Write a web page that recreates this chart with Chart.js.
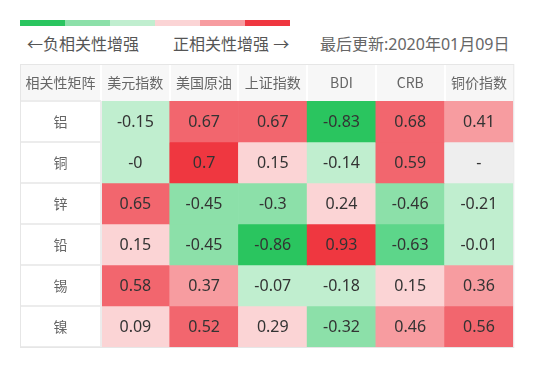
<!DOCTYPE html>
<html>
<head>
<meta charset="utf-8">
<script src="https://cdn.jsdelivr.net/npm/chart.js@4"></script>
<style>
  body { margin: 0; width: 536px; height: 376px; background: #fff; position: relative; overflow: hidden;
         font-family: "Noto Sans", "Noto Sans CJK SC", sans-serif; }
  #scale { position: absolute; left: 20px; top: 20px; display: flex; }
  #scale span { width: 45px; height: 6px; display: block; }
  .tip { position: absolute; top: 33px; font-size: 16px; line-height: 22px; color: #555; white-space: nowrap; }
  #wrap { position: absolute; left: 20px; top: 64px; width: 497px; height: 284px; }
</style>
</head>
<body>
<div id="scale"></div>
<div class="tip" style="left:27px">←负相关性增强</div>
<div class="tip" style="left:173px">正相关性增强 →</div>
<div class="tip" style="left:320px;color:#666">最后更新:2020年01月09日</div>
<div id="wrap"><canvas id="heat"></canvas></div>
<script>
// --- dati ---
const metals = ['铝', '铜', '锌', '铅', '锡', '镍'];
const indices = ['美元指数', '美国原油', '上证指数', 'BDI', 'CRB', '铜价指数'];
const alu    = [-0.15, 0.67, 0.67, -0.83, 0.68, 0.41];
const copper = [-0, 0.7, 0.15, -0.14, 0.59, null];
const zinc   = [0.65, -0.45, -0.3, 0.24, -0.46, -0.21];
const lead   = [0.15, -0.45, -0.86, 0.93, -0.63, -0.01];
const tin    = [0.58, 0.37, -0.07, -0.18, 0.15, 0.36];
const nickel = [0.09, 0.52, 0.29, -0.32, 0.46, 0.56];
const rows = [alu, copper, zinc, lead, tin, nickel];

const legendColors = ['#2ac55f', '#8ce0a9', '#c0eecf', '#fbd4d5', '#f79ca0', '#ef3740'];

// legenda colori in alto
const scaleEl = document.getElementById('scale');
legendColors.forEach(c => {
  const s = document.createElement('span');
  s.style.background = c;
  scaleEl.appendChild(s);
});

const isNeg = v => v < 0 || Object.is(v, -0);

function colorFor(v) {
  if (v === null) return '#eeeeee';
  if (v <= -0.8) return '#2ac55f';
  if (v <= -0.6) return '#5dd68a';
  if (v <= -0.3) return '#8ce0a9';
  if (isNeg(v)) return '#c0eecf';
  if (v < 0.3) return '#fbd4d5';
  if (v < 0.5) return '#f79ca0';
  if (v < 0.7) return '#f2666e';
  return '#ef3740';
}

function fmt(v) {
  if (v === null) return '-';
  if (Object.is(v, -0)) return '-0';
  return String(v);
}

// --- plugin: intestazione, etichette righe, bordi ---
const tableFrame = {
  id: 'tableFrame',
  beforeDraw(chart) {
    const { ctx, chartArea: a } = chart;
    ctx.save();
    ctx.fillStyle = '#f7f7f7';
    ctx.fillRect(0, 0, a.right, a.top);
    ctx.fillStyle = '#666';
    ctx.font = '14px "Noto Sans CJK SC", sans-serif';
    ctx.textAlign = 'center';
    ctx.textBaseline = 'middle';
    ctx.fillText('相关性矩阵', a.left / 2, a.top / 2);
    ctx.restore();
  },
  afterDraw(chart) {
    const { ctx, chartArea: a, scales } = chart;
    const x = scales.x, y = scales.y;
    ctx.save();
    // etichette righe
    ctx.fillStyle = '#666';
    ctx.font = '14px "Noto Sans CJK SC", sans-serif';
    ctx.textAlign = 'center';
    ctx.textBaseline = 'middle';
    metals.forEach((m, i) => ctx.fillText(m, a.left / 2, y.getPixelForValue(i + 0.5)));
    // separatori bianchi nell'intestazione
    ctx.strokeStyle = '#ffffff';
    ctx.lineWidth = 2;
    ctx.beginPath();
    ctx.moveTo(a.left, 1); ctx.lineTo(a.left, a.top);
    for (let j = 1; j < indices.length; j++) {
      const px = Math.round((x.getPixelForValue(j - 1) + x.getPixelForValue(j)) / 2);
      ctx.moveTo(px, 1); ctx.lineTo(px, a.top);
    }
    ctx.stroke();
    // righe grigie nella colonna etichette
    ctx.strokeStyle = '#ececec';
    ctx.lineWidth = 2;
    ctx.beginPath();
    for (let i = 0; i <= metals.length; i++) {
      const py = Math.round(y.getPixelForValue(i));
      ctx.moveTo(0, py); ctx.lineTo(a.left, py);
    }
    ctx.moveTo(a.left, a.top); ctx.lineTo(a.left, a.bottom);
    ctx.stroke();
    // bordo esterno
    ctx.lineWidth = 1;
    ctx.strokeStyle = '#e6e6e6';
    ctx.strokeRect(0.5, 0.5, a.right, a.bottom);
    ctx.restore();
  }
};

// --- plugin: valori nelle celle ---
const cellLabels = {
  id: 'cellLabels',
  afterDatasetsDraw(chart) {
    const { ctx } = chart;
    ctx.save();
    ctx.font = '16px "Noto Sans", sans-serif';
    ctx.fillStyle = '#333';
    ctx.textAlign = 'center';
    ctx.textBaseline = 'middle';
    chart.data.datasets.forEach((ds, i) => {
      chart.getDatasetMeta(i).data.forEach((el, j) => {
        ctx.fillText(fmt(rows[i][j]), el.x, (el.y + el.base) / 2 + 1);
      });
    });
    ctx.restore();
  }
};

const datasets = metals.map((m, i) => ({
  label: m,
  data: indices.map(() => [i, i + 1]),
  backgroundColor: rows[i].map(colorFor),
  borderWidth: 0,
  barPercentage: 1,
  categoryPercentage: 1,
  grouped: false
}));

new Chart(document.getElementById('heat'), {
  type: 'bar',
  data: { labels: indices, datasets },
  plugins: [tableFrame, cellLabels],
  options: {
    responsive: true,
    maintainAspectRatio: false,
    animation: false,
    layout: { padding: { left: 81, right: 1, bottom: 1 } },
    plugins: { legend: { display: false }, tooltip: { enabled: false } },
    scales: {
      x: {
        position: 'top',
        offset: true,
        grid: { display: false, drawTicks: false },
        border: { display: false },
        ticks: { color: '#666', font: { size: 14, family: '"Noto Sans CJK SC", sans-serif' }, padding: 10, maxRotation: 0 },
        afterFit: s => { s.height = 37; }
      },
      y: { display: false, min: 0, max: 6, reverse: true }
    }
  }
});
</script>
</body>
</html>
